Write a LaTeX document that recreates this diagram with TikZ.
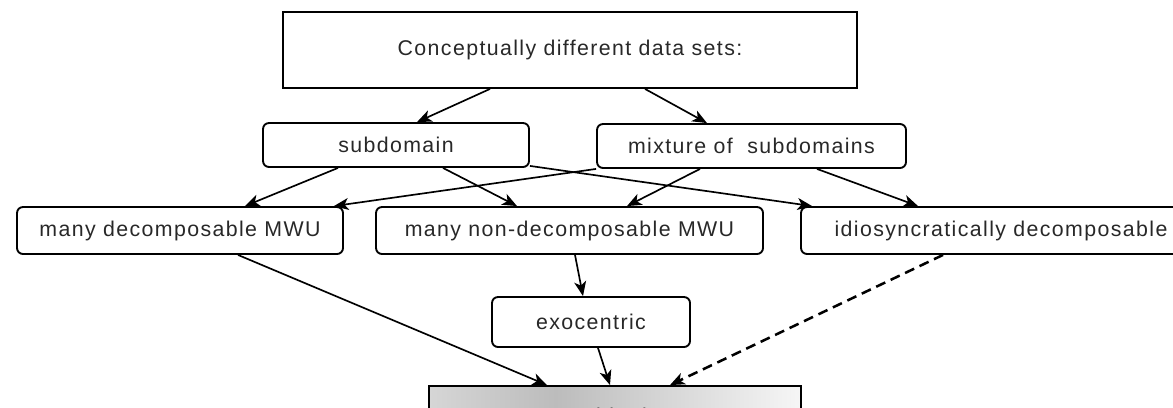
\documentclass[tikz,border=0pt]{standalone}
\usepackage{fontspec}
\setmainfont{Liberation Sans}
\usetikzlibrary{arrows.meta}
\usetikzlibrary{calc}
\definecolor{inkgray}{RGB}{40,40,40}
\definecolor{shadeleft}{RGB}{214,214,214}
\definecolor{shademid}{RGB}{188,188,188}
\definecolor{shaderight}{RGB}{246,246,246}
\pgfdeclarehorizontalshading{boxshade}{100bp}{color(0bp)=(shadeleft); color(25bp)=(shadeleft); color(42bp)=(shademid); color(75bp)=(shaderight); color(100bp)=(shaderight)}

\begin{document}
\begin{tikzpicture}[x=0.75pt, y=-0.75pt,
  font=\fontsize{16pt}{18pt}\selectfont\addfontfeatures{LetterSpace=6.5},
  box/.style={draw, line width=1.4pt, inner sep=0pt, text=inkgray},
  rbox/.style={box, rounded corners=4.5pt},
  link/.style={line width=1.25pt, -{Stealth[length=11pt, width=9pt, inset=3pt]}},
  dlink/.style={link, line width=1.9pt, dash pattern=on 7.5pt off 4.5pt}]
\useasboundingbox (0,0) rectangle (1173,407);
\fill[white] (0,0) rectangle (1173,407);
\clip (0,0) rectangle (1173,407);

\node[box, minimum width=430.5pt, minimum height=57pt] (a) at (570,50) {Conceptually different data sets:};
\node[rbox, minimum width=199.5pt, minimum height=33pt] (b) at (396,145) {subdomain};
\node[rbox, minimum width=231.75pt, minimum height=33pt] (c) at (751.5,146) {mixture of\ \ subdomains};
\node[rbox, minimum width=244.5pt, minimum height=35.25pt] (d) at (180,230.5) {many decomposable MWU};
\node[rbox, minimum width=290.25pt, minimum height=35.25pt] (e) at (569.5,230.5) {many non-decomposable MWU};
\node[rbox, minimum width=300pt, minimum height=35.25pt] (f) at (1001,230.5) {idiosyncratically decomposable};
\node[rbox, minimum width=148.5pt, minimum height=37.5pt] (g) at (591,322) {exocentric};
\node[box, shading=boxshade, minimum width=279pt, minimum height=48pt] (h) at (615,418) {ambiguity};

\draw[link] ($(a.south)+(-80,0)$) -- ($(b.north)+(21,0)$);
\draw[link] ($(a.south)+(75,0)$) -- ($(c.north)+(-44.5,0)$);
\draw[link] ($(b.south)+(-58,0)$) -- ($(d.north)+(65,0)$);
\draw[link] ($(b.south)+(47,0)$) -- ($(e.north)+(-52.5,0)$);
\draw[link] ($(b.south east)+(0,-2)$) -- ($(f.north west)+(12,0)$);
\draw[link] (c.south west) -- ($(d.north east)+(-10,0)$);
\draw[link] ($(c.south)+(-51.5,0)$) -- ($(e.north)+(57.5,0)$);
\draw[link] ($(c.south)+(65.5,0)$) -- ($(f.north)+(-83,0)$);
\draw[link] ($(e.south)+(5.5,0)$) -- ($(g.north)+(-8,0)$);
\draw[link] ($(d.south)+(58,0)$) -- ($(h.north)+(-68,0)$);
\draw[link] ($(g.south)+(7,0)$) -- ($(h.north)+(-5,0)$);
\draw[dlink] ($(f.south)+(-58,0)$) -- ($(h.north)+(55,0)$);
\end{tikzpicture}
\end{document}
